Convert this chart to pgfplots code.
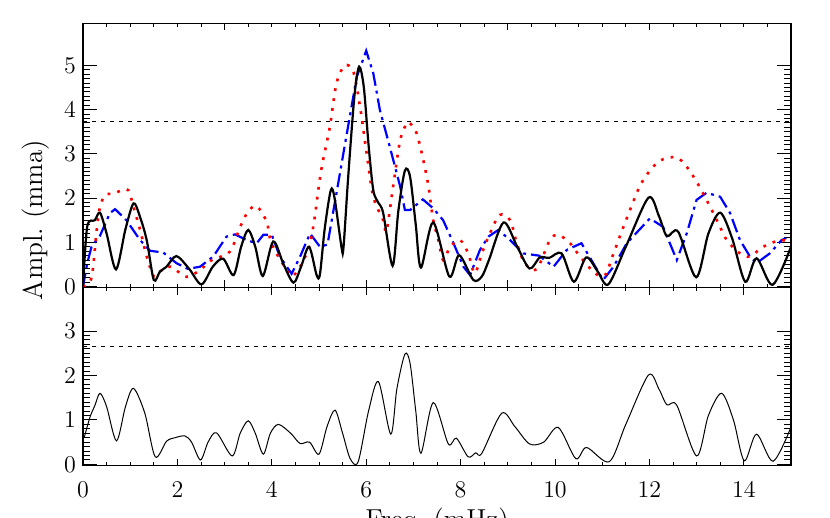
\documentclass[border=0pt]{standalone}
\usepackage{pgfplots}
\pgfplotsset{compat=1.18}
\begin{document}
\begin{tikzpicture}
\useasboundingbox (-41.5pt,11.65pt) rectangle (373.5pt,-247.35pt);
\pgfplotsset{
  common/.style={
    scale only axis, width=354pt, xmin=0, xmax=15,
    tick align=inside,
    major tick length=7pt, minor tick length=3.5pt,
    xtick style={/pgfplots/major tick length=3.5pt,/pgfplots/minor tick length=1.8pt},
    tick label style={font=\fontsize{12}{14}\selectfont},
    label style={font=\fontsize{13.7}{16}\selectfont},
    axis line style={line width=0.6pt},
    every tick/.style={black, line width=0.5pt},
    minor y tick num=9,
  },
  blk/.style={black, line width=1.1pt, smooth},
  rdot/.style={red, line width=1.3pt, dash pattern=on 1.4pt off 3.6pt, smooth},
  bdd/.style={blue, line width=1.1pt, dash pattern=on 7pt off 2.5pt on 1.5pt off 2.5pt},
  thr/.style={black, line width=0.4pt, dash pattern=on 2pt off 2.5pt},
}
\begin{axis}[common, at={(0,0)}, anchor=north west, height=132.1pt,
  ymin=-0.02, ymax=5.95, ytick={0,...,5},
  xtick={0,3,...,15}, minor x tick num=5, xticklabels={},
  ylabel={Ampl.\ (mma)},
  ylabel style={at={(rel axis cs:-0.0664,0.2555)}, anchor=center}]
\addplot[thr] coordinates {(0,3.73) (15,3.73)};
\addplot[bdd] coordinates {
(0,0) (0.09,0.53) (0.18,0.9) (0.36,1.15) (0.57,1.66) (0.68,1.75) (0.92,1.5)
(1.21,1.05) (1.42,0.81) (1.70,0.77) (1.98,0.53) (2.22,0.4) (2.48,0.45)
(2.76,0.68) (3.04,1.13) (3.22,1.18) (3.47,1.05) (3.68,0.98) (3.82,1.17)
(4.0,1.17) (4.17,0.68) (4.42,0.29) (4.6,0.68) (4.81,1.2) (5.02,0.9)
(5.18,0.95) (5.37,2.11) (5.59,3.46) (5.80,4.74) (6.0,5.33) (6.15,4.82)
(6.29,3.99) (6.5,3.16) (6.72,2.26) (6.82,1.73) (6.93,1.73) (7.2,1.97)
(7.42,1.77) (7.63,1.5) (7.85,0.98) (8.06,0.45) (8.2,0.26) (8.41,0.83)
(8.59,1.13) (8.8,1.28) (9.05,1.05) (9.33,0.75) (9.66,0.7) (9.97,0.45)
(10.25,0.83) (10.56,0.98) (10.81,0.53) (11.02,0.15) (11.24,0.45)
(11.52,0.98) (12.01,1.54) (12.29,1.35) (12.58,0.6) (12.79,1.2) (13.0,1.96)
(13.21,2.12) (13.5,2.03) (13.71,1.66) (13.92,1.05) (14.13,0.68)
(14.27,0.53) (14.55,0.75) (14.8,1.05) (14.9,1.1)
};
\addplot[rdot] coordinates {
(0,0) (0.18,0.2) (0.29,1.28) (0.36,1.8) (0.47,2.07) (0.64,2.1) (0.78,2.16)
(0.96,2.18) (1.07,1.8) (1.21,1.28) (1.35,0.68) (1.50,0.23) (1.63,0.34)
(1.85,0.45) (2.2,0.22) (2.48,0.38) (2.73,0.6) (3.11,0.79) (3.33,1.35)
(3.5,1.7) (3.68,1.82) (3.89,1.47) (3.97,1.05) (4.1,0.75) (4.27,0.45)
(4.42,0.23) (4.6,0.45) (4.79,0.9) (4.9,1.5) (5.0,2.3) (5.07,2.77)
(5.23,3.61) (5.37,4.59) (5.55,5.0) (5.73,4.85) (5.87,4.06) (6.01,3.01)
(6.15,2.03) (6.36,1.5) (6.43,1.25) (6.57,2.26) (6.72,3.31) (6.86,3.69)
(6.93,3.69) (7.07,3.46) (7.21,2.86) (7.32,2.26) (7.42,1.5) (7.53,1.05)
(7.63,0.6) (7.78,0.9) (7.99,1.05) (8.16,0.75) (8.3,0.3) (8.45,0.75)
(8.62,1.2) (8.83,1.62) (9.05,1.5) (9.19,0.98) (9.36,0.53) (9.61,0.39)
(9.89,1.05) (10.07,1.17) (10.32,0.98) (10.53,0.68) (10.85,0.3)
(11.06,0.26) (11.24,0.75) (11.45,1.35) (11.73,2.11) (11.87,2.41)
(12.08,2.71) (12.29,2.88) (12.58,2.92) (12.79,2.71) (13.0,2.37)
(13.21,1.96) (13.43,1.5) (13.64,1.05) (13.92,0.75) (14.13,0.68)
(14.41,0.9) (14.77,1.05) (15,1.0)
};
\addplot[blk] coordinates {
(0,0) (0.09,1.36) (0.25,1.5) (0.36,1.67) (0.5,1.2) (0.70,0.39) (0.9,1.3)
(1.07,1.88) (1.2,1.6) (1.35,1.05) (1.50,0.15) (1.63,0.34) (1.77,0.45)
(1.98,0.69) (2.25,0.4) (2.51,0.05) (2.75,0.45) (2.97,0.63) (3.19,0.26)
(3.35,0.9) (3.50,1.28) (3.65,0.9) (3.81,0.24) (4.03,1.02) (4.25,0.5)
(4.46,0.09) (4.62,0.45) (4.79,0.90) (4.95,0.26) (5.02,0.28) (5.12,1.3)
(5.25,2.18) (5.33,2.0) (5.48,0.87) (5.52,0.9) (5.62,2.5) (5.75,4.3)
(5.85,4.97) (5.95,4.5) (6.05,3.2) (6.15,2.18) (6.26,1.89) (6.36,1.66)
(6.56,0.47) (6.68,1.7) (6.82,2.62) (6.93,2.48) (7.05,1.4) (7.16,0.43)
(7.42,1.45) (7.76,0.23) (7.97,0.71) (8.27,0.15) (8.45,0.23) (8.6,0.6)
(8.91,1.45) (9.2,0.9) (9.46,0.41) (9.68,0.66) (9.88,0.65) (10.14,0.75)
(10.40,0.11) (10.66,0.66) (10.9,0.35) (11.13,0.05) (11.5,0.9)
(11.98,2.01) (12.2,1.6) (12.37,1.14) (12.61,1.24) (12.99,0.21)
(13.25,1.2) (13.50,1.67) (13.75,1.1) (14.03,0.11) (14.27,0.64)
(14.61,0.04) (15.0,0.90)
};
\end{axis}
\begin{axis}[common, at={(0,-132.1pt)}, anchor=north west, height=89.1pt,
  ymin=-0.03, ymax=3.98, ytick={0,...,3},
  xtick={0,2,...,14}, minor x tick num=3,
  xticklabel style={yshift=-4.5pt},
  xlabel={Freq.\ (mHz)},
  xlabel style={at={(rel axis cs:0.5,-0.3535)}, anchor=base}]
\addplot[thr] coordinates {(0,2.65) (15,2.65)};
\addplot[black, line width=0.5pt, smooth] coordinates {
(0.03,0.62) (0.15,1.07) (0.25,1.32) (0.36,1.60) (0.5,1.3) (0.71,0.53)
(0.9,1.3) (1.07,1.71) (1.31,1.15) (1.53,0.17) (1.77,0.52) (1.95,0.6)
(2.16,0.64) (2.3,0.5) (2.49,0.10) (2.65,0.5) (2.83,0.71) (3.16,0.19)
(3.33,0.7) (3.50,0.98) (3.65,0.7) (3.82,0.23) (3.97,0.7) (4.14,0.90)
(4.4,0.7) (4.6,0.47) (4.8,0.5) (5.0,0.23) (5.17,0.85) (5.34,1.22)
(5.5,0.7) (5.66,0.13) (5.83,0.06) (6.05,1.2) (6.26,1.86) (6.52,0.68)
(6.65,1.7) (6.82,2.48) (6.93,2.27) (7.05,1.2) (7.16,0.25) (7.42,1.39)
(7.74,0.46) (7.91,0.59) (8.16,0.17) (8.32,0.26) (8.45,0.25) (8.87,1.15)
(9.15,0.85) (9.46,0.46) (9.76,0.5) (10.07,0.83) (10.44,0.13) (10.67,0.38)
(11.15,0.06) (11.5,0.9) (11.98,2.01) (12.2,1.7) (12.37,1.34) (12.58,1.33)
(13.0,0.19) (13.25,1.1) (13.53,1.6) (13.78,1.0) (14.01,0.08) (14.27,0.68)
(14.62,0.07) (15,0.84)
};
\end{axis}
\end{tikzpicture}
\end{document}
